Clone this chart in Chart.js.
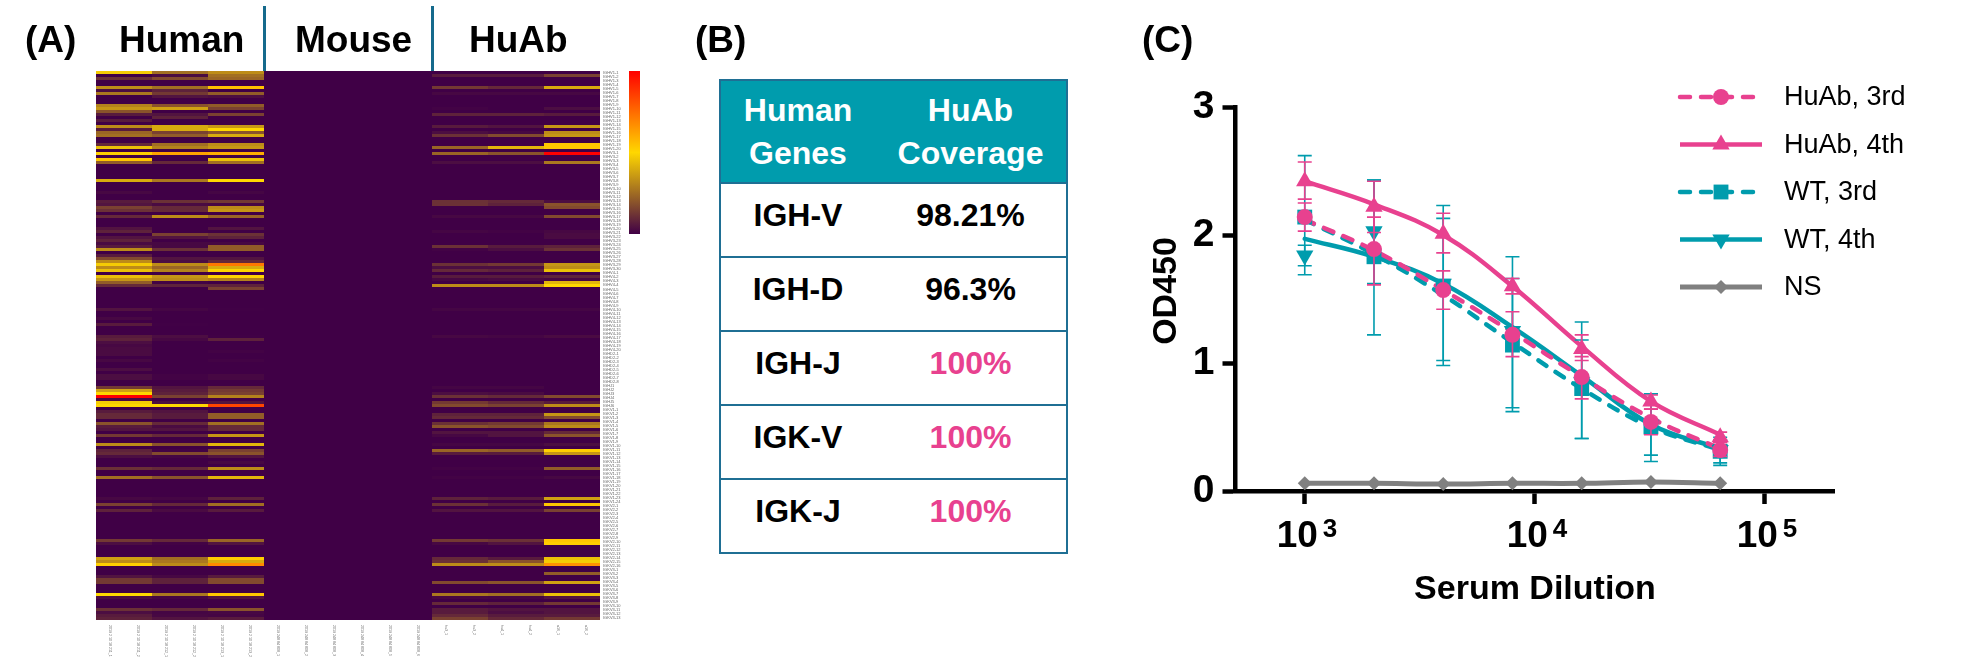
<!DOCTYPE html>
<html>
<head>
<meta charset="utf-8">
<title>HuAb repertoire</title>
<script src="https://cdn.jsdelivr.net/npm/chart.js@4/dist/chart.umd.js"></script>
<style>
    html, body { margin: 0; padding: 0; background: #fff; }
    body { position: relative; width: 1980px; height: 666px; overflow: hidden; font-family: "Liberation Sans", sans-serif; color: #000; }
    canvas { position: absolute; top: 0; }
    .label { position: absolute; font-weight: bold; font-size: 37px; line-height: 40px; white-space: nowrap; }
    .sep { position: absolute; top: 6px; width: 3px; height: 65px; background: #156a8c; }
    .colorbar { position: absolute; left: 629px; top: 71px; width: 11px; height: 163px; background: linear-gradient(to bottom, #ff0000, #ffd700 50%, #400046); }
    table { position: absolute; left: 719px; top: 79px; width: 347px; border-collapse: collapse; table-layout: fixed; font-weight: bold; font-size: 32px; line-height: 36px; text-align: center; }
    th, td { border-top: 2px solid #1f6f94; border-bottom: 2px solid #1f6f94; padding: 0; vertical-align: top; }
    th:first-child, td:first-child { border-left: 2px solid #1f6f94; }
    th:last-child, td:last-child { border-right: 2px solid #1f6f94; }
    th { background: #009cad; color: #fff; height: 103px; padding-top: 8px; box-sizing: border-box; line-height: 43px; }
    td { height: 74px; box-sizing: border-box; padding-top: 13px; }
    td.full { color: #e8418f; }
</style>
</head>
<body>
<canvas id="heatmapCanvas" width="660" height="666" style="left:0"></canvas>
<div class="label" style="left:25px;top:20px">(A)</div>
<div class="label" style="left:119px;top:20px">Human</div>
<div class="label" style="left:295px;top:20px">Mouse</div>
<div class="label" style="left:469px;top:20px">HuAb</div>
<div class="sep" style="left:263px"></div>
<div class="sep" style="left:431px"></div>
<div class="colorbar"></div>

<div class="label" style="left:695px;top:20px">(B)</div>
<table id="coverageTable"></table>

<canvas id="titerCanvas" width="880" height="666" style="left:1100px"></canvas>
<div class="label" style="left:1142px;top:20px">(C)</div>

<script>
// Panel A: read band by band, 0 = dark purple, 50 = yellow, 100 = red
const human1 = [
    48,0,16,0,0,36,6,32,0,0,
    0,34,38,24,10,0,10,0,36,10,
    28,30,0,0,14,46,0,52,0,54,
    26,0,0,0,0,0,42,0,0,0,
    4,0,0,10,8,20,16,0,14,0,
    0,0,8,12,0,8,12,5,10,36,
    0,10,22,36,48,36,46,0,46,38,
    26,14,0,0,0,0,0,0,0,8,
    0,0,4,0,10,0,0,0,10,12,
    6,4,5,5,5,0,4,0,0,6,
    0,6,6,0,0,18,40,50,100,5,
    48,50,0,10,14,14,0,24,10,8,
    0,18,0,0,36,0,12,14,6,0,
    0,0,16,0,0,30,0,0,0,0,
    0,0,4,0,20,0,12,0,0,0,
    0,0,0,0,0,0,18,6,0,0,
    0,0,40,36,52,0,0,0,8,18,
    18,0,0,0,50,6,0,0,0,16,
    6,10,12
];
const human2 = [
    30,5,22,0,0,30,12,18,8,0,
    0,24,40,0,8,12,0,0,42,42,
    20,26,0,0,30,34,0,62,0,0,
    14,0,0,0,0,0,32,0,0,0,
    0,0,0,16,5,14,14,0,36,0,
    0,0,0,0,20,8,0,4,4,16,
    0,0,8,6,36,28,34,0,38,36,
    2,12,0,0,0,0,0,0,0,3,
    0,0,0,0,1,0,0,0,6,4,
    0,0,0,0,0,0,0,0,0,0,
    0,2,2,0,0,8,10,12,20,0,
    6,50,0,8,10,10,0,14,5,8,
    0,14,0,0,24,0,2,22,3,0,
    0,0,14,0,0,24,0,0,0,0,
    0,0,3,0,14,0,5,0,0,0,
    0,0,0,0,0,0,14,2,0,0,
    0,0,30,32,36,0,0,0,4,12,
    12,0,0,0,32,3,0,0,0,14,
    3,4,8
];
const human3 = [
    36,30,28,0,0,55,0,26,6,0,
    0,26,20,0,20,0,0,0,38,50,
    24,42,0,0,36,38,0,60,0,46,
    30,0,0,0,0,0,50,0,0,0,
    3,0,0,18,4,36,38,0,28,0,
    0,0,8,0,16,12,0,4,26,26,
    0,0,8,14,72,42,50,0,50,34,
    0,12,20,0,0,0,0,0,0,1,
    0,0,0,0,0,0,0,0,1,12,
    0,0,0,2,0,0,2,0,0,0,
    0,4,4,0,0,14,18,20,34,0,
    8,84,0,0,26,26,0,30,14,14,
    0,38,0,0,44,0,20,24,8,0,
    4,0,36,0,0,44,0,0,0,0,
    0,0,12,0,30,0,10,0,0,0,
    0,0,0,0,0,0,28,8,0,0,
    0,0,52,42,68,0,0,0,10,22,
    22,0,0,0,54,8,0,0,0,24,
    4,3,10
];
const mouse = [
    0,0,0,0,0,0,0,0,0,0, 0,0,0,0,0,0,0,0,0,0,
    0,0,0,0,0,0,0,0,0,0, 0,0,0,0,0,0,0,0,0,0,
    0,0,0,0,0,0,0,0,0,0, 0,0,0,0,0,0,0,0,0,0,
    0,0,0,0,0,0,0,0,0,0, 0,0,0,0,0,0,0,0,0,0,
    0,0,0,0,0,0,0,0,0,0, 0,0,0,0,0,0,0,0,0,0,
    0,0,0,0,0,0,0,0,0,0, 0,0,0,0,0,0,0,0,0,0,
    0,0,0,0,0,0,0,0,0,0, 0,0,0,0,0,0,0,0,0,0,
    0,0,0,0,0,0,0,0,0,0, 0,0,0,0,0,0,0,0,0,0,
    0,0,0,0,0,0,0,0,0,0, 0,0,0,0,0,0,0,0,0,0,
    0,0,0
];
const huab1 = [
    0,10,0,0,0,18,0,4,0,0,
    0,0,2,0,12,0,0,0,10,0,
    6,16,0,0,0,28,0,28,0,0,
    6,0,0,0,0,0,0,0,0,0,
    0,0,0,16,16,0,0,0,4,0,
    0,0,0,3,0,0,0,0,16,2,
    0,0,0,0,16,6,14,0,10,4,
    0,36,0,0,0,0,0,0,0,3,
    0,0,0,0,0,0,0,0,4,0,
    0,0,0,0,0,0,0,0,0,0,
    0,0,0,0,0,3,0,6,16,0,
    18,22,0,0,12,14,0,16,24,0,
    8,4,0,0,3,0,28,10,0,0,
    0,0,2,0,0,2,0,0,0,0,
    0,0,12,0,16,0,8,0,0,0,
    0,0,0,0,0,0,18,4,0,0,
    0,0,14,16,36,0,0,0,0,0,
    22,0,0,0,32,4,0,14,0,10,
    10,14,20
];
const huab2 = [
    0,10,0,0,0,14,0,4,0,0,
    0,0,0,0,12,0,0,0,8,0,
    4,22,0,0,0,44,0,24,0,0,
    6,0,0,0,0,0,0,0,0,0,
    0,0,0,14,12,0,0,0,4,0,
    0,0,0,2,0,0,0,0,10,6,
    0,0,0,0,18,6,12,0,10,5,
    0,36,0,0,0,0,0,0,0,3,
    0,0,0,0,0,0,0,0,3,0,
    0,0,0,0,0,0,0,0,0,0,
    0,0,0,0,0,3,0,5,14,0,
    14,20,0,0,12,14,0,18,22,0,
    8,8,0,0,3,0,26,10,0,0,
    0,0,2,0,0,2,0,0,0,0,
    0,0,10,0,10,0,8,0,0,0,
    0,0,0,0,0,0,16,8,0,0,
    0,0,10,24,36,0,0,0,0,0,
    24,0,0,0,30,3,0,12,0,8,
    6,10,14
];
const huab3 = [
    0,20,0,0,0,42,0,4,0,0,
    0,0,6,0,10,0,0,0,38,0,
    36,38,0,0,54,54,0,100,0,0,
    32,0,0,0,0,0,0,0,0,0,
    0,0,0,6,24,22,0,0,22,0,
    0,0,0,4,5,5,0,0,12,16,
    0,0,0,0,38,36,46,0,12,4,
    44,50,0,0,0,0,0,0,0,3,
    0,0,0,0,0,0,0,0,5,0,
    0,0,0,0,0,0,0,0,0,0,
    0,0,0,0,0,0,0,0,22,0,
    10,36,0,0,38,22,0,32,36,0,
    14,24,0,0,6,0,52,38,0,0,
    0,0,26,0,0,4,0,0,0,0,
    0,0,40,0,54,0,20,0,0,0,
    0,0,0,0,0,0,54,52,0,0,
    0,0,46,48,66,0,0,26,0,0,
    40,0,0,0,46,8,0,18,0,8,
    8,10,18
];
const sampleColumns = [human1, human1, human2, human2, human3, human3, mouse, mouse, mouse, mouse, mouse, mouse, huab1, huab1, huab2, huab2, huab3, huab3];
const sampleLabels = [
    '2019 2 10 18 211_1', '2019 2 10 18 211_2', '2019 2 10 18 212_1', '2019 2 10 18 212_2', '2019 2 10 18 213_1', '2019 2 10 18 213_2',
    '2019 248 84 808_1', '2019 248 84 808_2', '2019 248 84 808_3', '2019 248 84 808_4', '2019 248 84 808_5', '2019 248 84 808_6',
    'hu3_1', 'hu3_2', 'hu4_1', 'hu4_2', 'a16_1', 'a16_2'
];
const geneFamilies = ['IGHV1-', 'IGHV3-', 'IGHV4-', 'IGHD2-', 'IGHJ', 'IGKV1-', 'IGKV2-', 'IGKV3-'];
const geneCounts = [20, 30, 20, 8, 6, 24, 16, 13];

// Panel B
const humanGenes = ['IGH-V', 'IGH-D', 'IGH-J', 'IGK-V', 'IGK-J'];
const huabCoverage = ['98.21%', '96.3%', '100%', '100%', '100%'];

// Panel C
const dilutions = [1000, 2000, 4000, 8000, 16000, 32000, 64000];
const huab3rd = [2.14, 1.89, 1.57, 1.22, 0.89, 0.54, 0.32];
const huab3rdHigh = [2.25, 2.14, 1.72, 1.40, 1.05, 0.64, 0.38];
const huab3rdLow = [2.03, 1.61, 1.42, 1.05, 0.72, 0.44, 0.27];
const huab3rdCurve = [2.12, 1.88, 1.57, 1.24, 0.89, 0.57, 0.33];
const huab4th = [2.42, 2.22, 2.01, 1.60, 1.11, 0.70, 0.42];
const huab4thHigh = [2.57, 2.42, 2.17, 1.66, 1.22, 0.75, 0.46];
const huab4thLow = [2.28, 2.02, 1.86, 1.54, 1.02, 0.64, 0.38];
const huab4thCurve = [2.42, 2.24, 2.00, 1.60, 1.13, 0.70, 0.44];
const wt3rd = [2.14, 1.83, 1.60, 1.14, 0.80, 0.50, 0.31];
const wt3rdHigh = [2.62, 2.43, 2.23, 1.66, 1.18, 0.76, 0.40];
const wt3rdLow = [1.69, 1.22, 0.98, 0.62, 0.41, 0.23, 0.22];
const wt3rdCurve = [2.12, 1.85, 1.53, 1.16, 0.80, 0.50, 0.32];
const wt4th = [1.84, 2.03, 1.62, 1.25, 0.85, 0.52, 0.32];
const wt4thHigh = [1.92, 2.43, 2.13, 1.83, 1.32, 0.76, 0.42];
const wt4thLow = [1.76, 1.62, 1.02, 0.65, 0.41, 0.28, 0.20];
const wt4thCurve = [1.97, 1.83, 1.62, 1.28, 0.90, 0.52, 0.33];
const noSerum = [0.06, 0.06, 0.055, 0.06, 0.06, 0.07, 0.06];
const yTicks = [0, 1, 2, 3];
const xDecades = [3, 4, 5];

const PINK = '#e8418f';
const TEAL = '#009cad';
const GREY = '#808080';
const FONT = '"Liberation Sans", sans-serif';

// Purple to yellow to red, same stops as the colour bar. The low end is eased a bit,
// the browns in the reference sit darker than a straight ramp gives.
function heatColor(value) {
    const low = [64, 0, 70], mid = [255, 215, 0], high = [255, 0, 0];
    const from = value < 50 ? low : mid;
    const to = value < 50 ? mid : high;
    const t = value < 50 ? Math.pow(value / 50, 1.3) : (value - 50) / 50;
    return `rgb(${from.map((c, i) => Math.round(c + (to[i] - c) * t)).join(',')})`;
}

function geneRowLabels() {
    const labels = [];
    geneFamilies.forEach((family, f) => {
        for (let i = 1; i <= geneCounts[f]; i++) labels.push(family + i);
    });
    return labels;
}

function drawHeatmap() {
    const rows = human1.map((_, i) => i);
    const heatmapExtras = {
        id: 'heatmapExtras',
        // Same purple behind the cells so no seams show between rows
        beforeDatasetsDraw(chart) {
            const a = chart.chartArea;
            chart.ctx.fillStyle = 'rgb(64,0,70)';
            chart.ctx.fillRect(a.left, a.top, a.right - a.left, a.bottom - a.top);
        },
        // Sample names under the columns read top to bottom, which the bottom axis can't do
        afterDraw(chart) {
            const ctx = chart.ctx;
            const x = chart.scales.x;
            ctx.save();
            ctx.fillStyle = '#666';
            ctx.font = '3.6px ' + FONT;
            ctx.textBaseline = 'middle';
            sampleLabels.forEach((label, i) => {
                ctx.save();
                ctx.translate(x.getPixelForValue(i + 0.5), chart.chartArea.bottom + 5);
                ctx.rotate(Math.PI / 2);
                ctx.fillText(label, 0, 0);
                ctx.restore();
            });
            ctx.restore();
        }
    };
    new Chart(document.getElementById('heatmapCanvas'), {
        type: 'bar',
        data: {
            labels: rows,
            datasets: sampleColumns.map(column => ({
                data: column.map(() => 1),
                backgroundColor: column.map(heatColor),
                borderWidth: 0,
                inflateAmount: 0,
                barPercentage: 1,
                categoryPercentage: 1
            }))
        },
        options: {
            indexAxis: 'y',
            responsive: false,
            animation: false,
            layout: { padding: { left: 96, top: 71, right: 24, bottom: 46 } },
            plugins: { legend: { display: false }, tooltip: { enabled: false } },
            scales: {
                x: { type: 'linear', stacked: true, min: 0, max: 18, display: false },
                y: { stacked: true, display: false },
                y2: {
                    type: 'category',
                    position: 'right',
                    offset: true,
                    labels: geneRowLabels(),
                    border: { display: false },
                    grid: { display: false, drawTicks: false, tickLength: 0 },
                    afterFit: scale => { scale.width = 36; },
                    ticks: {
                        autoSkip: false,
                        padding: 3,
                        color: '#666',
                        font: { size: 4, family: FONT }
                    }
                }
            }
        },
        plugins: [heatmapExtras]
    });
}

function fillTable() {
    let html = '<colgroup><col style="width:155px"><col style="width:192px"></colgroup>';
    html += '<tr><th>Human<br>Genes</th><th>HuAb<br>Coverage</th></tr>';
    humanGenes.forEach((gene, i) => {
        const cls = huabCoverage[i] === '100%' ? ' class="full"' : '';
        html += `<tr><td>${gene}</td><td${cls}>${huabCoverage[i]}</td></tr>`;
    });
    document.getElementById('coverageTable').innerHTML = html;
}

function toPoints(values) {
    return values.map((y, i) => ({ x: dilutions[i], y: y }));
}

function markerSet(label, values, high, low, color, style, radius, rotation) {
    return {
        label: label,
        data: toPoints(values),
        errHigh: high,
        errLow: low,
        showLine: false,
        pointStyle: style,
        pointRadius: radius,
        pointRotation: rotation || 0,
        pointBackgroundColor: color,
        pointBorderWidth: 0,
        borderColor: color,
        clip: false
    };
}

function curveSet(values, color, dash, width) {
    return {
        data: toPoints(values),
        borderColor: color,
        borderWidth: width || 4.5,
        borderDash: dash || [],
        borderCapStyle: 'round',
        tension: 0.4,
        pointRadius: 0,
        clip: false
    };
}

function drawTiters() {
    const DASH = [10, 11];
    const legendRows = [
        { text: 'HuAb, 3rd', color: PINK, dash: DASH, style: 'circle', radius: 8, rotation: 0 },
        { text: 'HuAb, 4th', color: PINK, dash: [], style: 'triangle', radius: 10, rotation: 0 },
        { text: 'WT, 3rd', color: TEAL, dash: DASH, style: 'rect', radius: 10.5, rotation: 0 },
        { text: 'WT, 4th', color: TEAL, dash: [], style: 'triangle', radius: 10, rotation: 180 },
        { text: 'NS', color: GREY, dash: [], style: 'rectRot', radius: 7, rotation: 0 }
    ];

    const extras = {
        id: 'titerExtras',
        // Error bars go in just under their own markers
        beforeDatasetDraw(chart, args) {
            const ds = chart.data.datasets[args.index];
            if (!ds.errHigh) return;
            const ctx = chart.ctx;
            const x = chart.scales.x, y = chart.scales.y;
            ctx.save();
            ctx.strokeStyle = ds.borderColor;
            ctx.lineWidth = 1.6;
            dilutions.forEach((d, i) => {
                const px = x.getPixelForValue(d);
                const top = y.getPixelForValue(ds.errHigh[i]);
                const bottom = y.getPixelForValue(ds.errLow[i]);
                ctx.beginPath();
                ctx.moveTo(px, top);
                ctx.lineTo(px, bottom);
                ctx.moveTo(px - 7, top);
                ctx.lineTo(px + 7, top);
                ctx.moveTo(px - 7, bottom);
                ctx.lineTo(px + 7, bottom);
                ctx.stroke();
            });
            ctx.restore();
        },
        afterDraw(chart) {
            const ctx = chart.ctx;
            const x = chart.scales.x;
            ctx.save();
            ctx.fillStyle = '#000';

            // 10 with a raised exponent
            ctx.textBaseline = 'alphabetic';
            xDecades.forEach(exp => {
                const px = x.getPixelForValue(Math.pow(10, exp));
                ctx.textAlign = 'left';
                ctx.font = 'bold 37px ' + FONT;
                ctx.fillText('10', px - 28, 547);
                ctx.font = 'bold 26px ' + FONT;
                ctx.fillText(String(exp), px + 18, 537);
            });

            // Axis titles
            ctx.textAlign = 'center';
            ctx.textBaseline = 'middle';
            ctx.font = 'bold 34px ' + FONT;
            ctx.fillText('Serum Dilution', 1535 - 1100, 590);
            ctx.save();
            ctx.translate(1167 - 1100, 291);
            ctx.rotate(-Math.PI / 2);
            ctx.fillText('OD450', 0, 0);
            ctx.restore();

            // Legend with line and marker samples
            legendRows.forEach((row, i) => {
                const rowY = 97 + i * 47.5;
                ctx.save();
                ctx.strokeStyle = row.color;
                ctx.lineWidth = row.color === GREY ? 5 : 4.5;
                ctx.lineCap = row.dash.length ? 'round' : 'butt';
                ctx.setLineDash(row.dash);
                ctx.beginPath();
                ctx.moveTo(580, rowY);
                ctx.lineTo(662, rowY);
                ctx.stroke();
                ctx.setLineDash([]);
                ctx.fillStyle = row.color;
                Chart.helpers.drawPoint(ctx, { pointStyle: row.style, rotation: row.rotation, radius: row.radius, borderWidth: 0 }, 621, rowY);
                ctx.restore();
                ctx.textAlign = 'left';
                ctx.fillStyle = '#000';
                ctx.font = '27px ' + FONT;
                ctx.fillText(row.text, 684, rowY + 1);
            });
            ctx.restore();
        }
    };

    new Chart(document.getElementById('titerCanvas'), {
        type: 'line',
        data: {
            datasets: [
                markerSet('HuAb, 3rd', huab3rd, huab3rdHigh, huab3rdLow, PINK, 'circle', 8),
                markerSet('HuAb, 4th', huab4th, huab4thHigh, huab4thLow, PINK, 'triangle', 10),
                markerSet('WT, 3rd', wt3rd, wt3rdHigh, wt3rdLow, TEAL, 'rect', 10.5),
                markerSet('WT, 4th', wt4th, wt4thHigh, wt4thLow, TEAL, 'triangle', 10, 180),
                markerSet('NS', noSerum, null, null, GREY, 'rectRot', 7),
                curveSet(huab3rdCurve, PINK, DASH),
                curveSet(huab4thCurve, PINK),
                curveSet(wt3rdCurve, TEAL, DASH),
                curveSet(wt4thCurve, TEAL),
                curveSet(noSerum, GREY, null, 5)
            ]
        },
        options: {
            responsive: false,
            animation: false,
            layout: { padding: { top: 107, right: 146 } },
            plugins: { legend: { display: false }, tooltip: { enabled: false } },
            scales: {
                x: {
                    type: 'logarithmic',
                    min: 500,
                    max: 200000,
                    afterFit: scale => { scale.height = 175; },
                    afterBuildTicks: scale => { scale.ticks = xDecades.map(e => ({ value: Math.pow(10, e), major: true })); },
                    border: { color: '#000', width: 4.5 },
                    grid: { drawOnChartArea: false, color: '#000', tickLength: 13, tickWidth: 4.5 },
                    ticks: { callback: () => '', maxRotation: 0 }
                },
                y: {
                    min: 0,
                    max: 3,
                    afterFit: scale => { scale.width = 135.5; },
                    afterBuildTicks: scale => { scale.ticks = yTicks.map(v => ({ value: v })); },
                    border: { color: '#000', width: 4.5 },
                    grid: { drawOnChartArea: false, color: '#000', tickLength: 13, tickWidth: 4.5 },
                    ticks: { color: '#000', padding: 8, font: { size: 39, weight: 'bold', family: FONT } }
                }
            }
        },
        plugins: [extras]
    });
}

document.addEventListener('DOMContentLoaded', function() {
    drawHeatmap();
    fillTable();
    drawTiters();
});
</script>
</body>
</html>
